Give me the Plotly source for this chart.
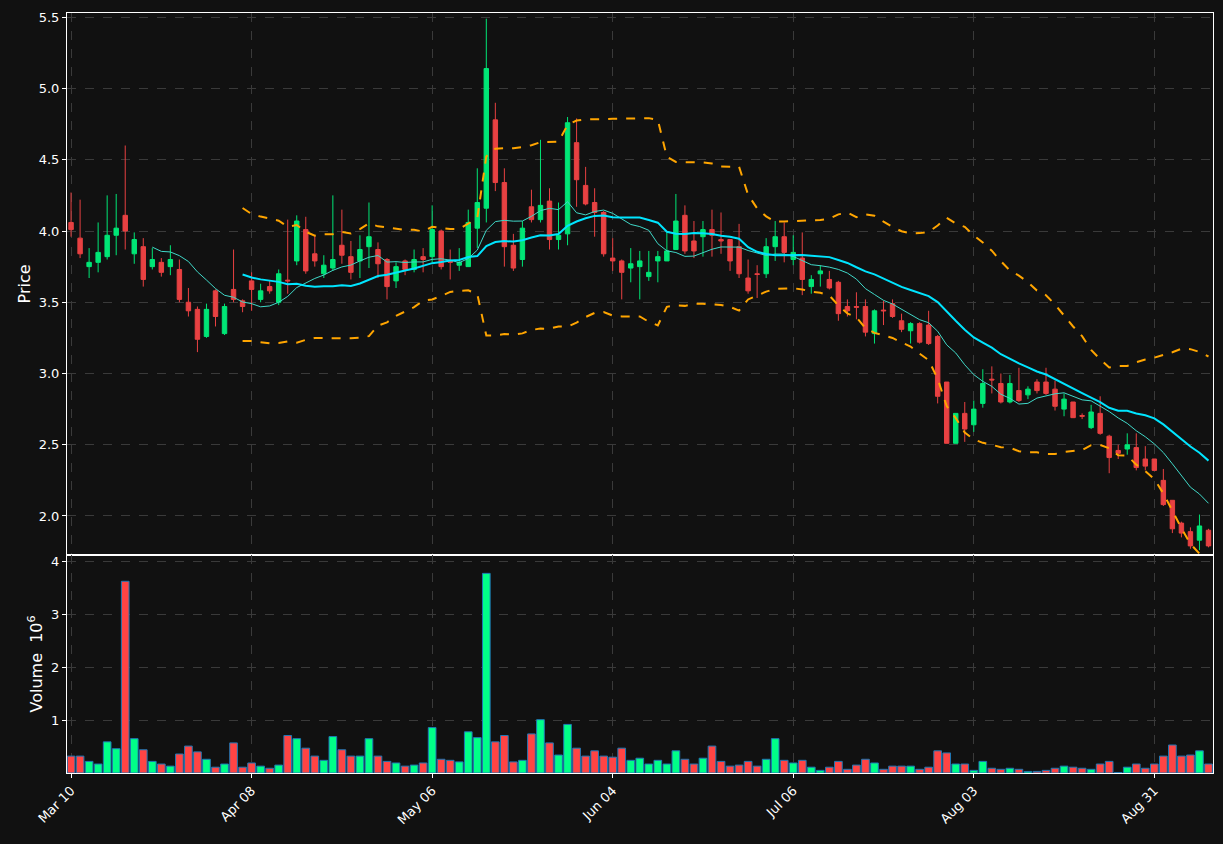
import pandas as pd
import plotly.graph_objects as go
from plotly.subplots import make_subplots

# OHLC, one entry per trading day
opens = [4.06, 3.95, 3.75, 3.78, 3.82, 3.97, 4.11, 3.84, 3.89, 3.75, 3.78, 3.75, 3.73, 3.50, 3.45, 3.26,
         3.58, 3.28, 3.59, 3.51, 3.65, 3.52, 3.61, 3.50, 3.655, 3.79, 4.01, 3.84, 3.70, 3.74, 3.90, 3.82,
         3.79, 3.89, 3.87, 3.80, 3.65, 3.79, 3.73, 3.82, 3.82, 4.00, 3.79, 3.76, 3.75, 4.02, 4.16, 4.78,
         4.34, 3.90, 3.80, 4.17, 4.08, 4.21, 3.94, 3.98, 4.62, 4.32, 4.20, 4.13, 3.81, 3.79, 3.74, 3.75,
         3.68, 3.79, 3.79, 3.87, 4.11, 3.93, 3.96, 4.01, 3.94, 3.94, 3.89, 3.67, 3.70, 3.70, 3.89, 3.96,
         3.80, 3.81, 3.61, 3.70, 3.66, 3.64, 3.47, 3.47, 3.47, 3.28, 3.445, 3.49, 3.37, 3.30, 3.35, 3.34,
         3.26, 2.94, 2.51, 2.72, 2.64, 2.79, 2.96, 2.93, 2.80, 2.88, 2.85, 2.94, 2.94, 2.89, 2.75, 2.80,
         2.705, 2.62, 2.72, 2.56, 2.46, 2.47, 2.48, 2.40, 2.40, 2.25, 2.11, 1.95, 1.89, 1.83, 1.90]
highs = [4.27, 4.22, 3.88, 4.06, 4.25, 4.26, 4.60, 3.99, 3.95, 3.88, 3.81, 3.90, 3.80, 3.60, 3.47, 3.49,
         3.59, 3.49, 3.87, 3.52, 3.71, 3.63, 3.65, 3.73, 4.08, 4.11, 4.10, 3.97, 3.83, 4.25, 4.15, 3.93,
         3.97, 4.20, 3.92, 3.81, 3.78, 3.80, 3.87, 3.88, 4.18, 4.01, 3.87, 3.88, 4.15, 4.44, 5.49, 4.90,
         4.44, 3.98, 4.07, 4.29, 4.64, 4.30, 4.20, 4.80, 4.79, 4.45, 4.30, 4.14, 3.95, 3.80, 3.88, 3.86,
         3.86, 3.86, 3.99, 4.26, 4.18, 4.07, 4.07, 4.15, 4.13, 3.94, 4.05, 3.80, 3.76, 3.95, 4.07, 4.06,
         3.97, 3.99, 3.69, 3.76, 3.72, 3.65, 3.52, 3.57, 3.52, 3.45, 3.51, 3.52, 3.42, 3.36, 3.36, 3.44,
         3.27, 2.94, 2.72, 2.80, 2.81, 3.03, 3.05, 3.00, 2.99, 3.04, 2.91, 2.96, 3.04, 2.95, 2.86, 2.80,
         2.72, 2.78, 2.84, 2.57, 2.50, 2.58, 2.58, 2.49, 2.40, 2.33, 2.11, 1.96, 1.92, 2.01, 1.91]
lows = [3.96, 3.81, 3.67, 3.71, 3.80, 3.83, 3.87, 3.77, 3.61, 3.73, 3.68, 3.69, 3.50, 3.40, 3.15, 3.25,
        3.33, 3.27, 3.50, 3.43, 3.44, 3.50, 3.56, 3.48, 3.56, 3.76, 3.70, 3.75, 3.67, 3.72, 3.77, 3.66,
        3.67, 3.74, 3.67, 3.52, 3.60, 3.69, 3.71, 3.71, 3.78, 3.73, 3.66, 3.72, 3.75, 3.88, 4.06, 4.28,
        3.75, 3.72, 3.75, 4.06, 4.06, 3.87, 3.87, 3.90, 4.17, 4.18, 3.96, 3.82, 3.72, 3.52, 3.64, 3.52,
        3.65, 3.64, 3.79, 3.87, 3.84, 3.81, 3.82, 3.82, 3.84, 3.72, 3.67, 3.56, 3.53, 3.67, 3.79, 3.78,
        3.76, 3.55, 3.56, 3.61, 3.59, 3.37, 3.40, 3.38, 3.26, 3.21, 3.34, 3.39, 3.29, 3.21, 3.21, 3.20,
        2.79, 2.51, 2.51, 2.52, 2.59, 2.76, 2.86, 2.79, 2.79, 2.80, 2.82, 2.86, 2.85, 2.74, 2.70, 2.69,
        2.68, 2.61, 2.57, 2.30, 2.40, 2.43, 2.32, 2.32, 2.32, 2.07, 1.88, 1.85, 1.77, 1.76, 1.78]
closes = [4.01, 3.84, 3.78, 3.85, 3.97, 4.02, 4.00, 3.94, 3.66, 3.80, 3.71, 3.80, 3.52, 3.44, 3.24, 3.45,
          3.40, 3.47, 3.52, 3.47, 3.59, 3.58, 3.58, 3.70, 3.65, 4.07, 3.72, 3.79, 3.76, 3.80, 3.83, 3.71,
          3.87, 3.96, 3.77, 3.61, 3.75, 3.73, 3.80, 3.80, 4.01, 3.75, 3.78, 3.78, 4.06, 4.20, 5.14, 4.34,
          3.89, 3.74, 4.02, 4.08, 4.18, 3.94, 3.97, 4.76, 4.36, 4.19, 4.13, 3.84, 3.79, 3.71, 3.77, 3.79,
          3.71, 3.82, 3.86, 4.07, 3.86, 3.86, 4.01, 3.97, 3.93, 3.79, 3.70, 3.58, 3.695, 3.89, 3.96, 3.85,
          3.85, 3.66, 3.66, 3.72, 3.60, 3.42, 3.44, 3.465, 3.29, 3.44, 3.44, 3.40, 3.31, 3.35, 3.22, 3.21,
          2.84, 2.51, 2.72, 2.61, 2.75, 2.93, 2.955, 2.80, 2.93, 2.81, 2.89, 2.88, 2.86, 2.77, 2.82, 2.69,
          2.70, 2.73, 2.58, 2.41, 2.44, 2.50, 2.34, 2.35, 2.32, 2.08, 1.91, 1.88, 1.79, 1.93, 1.79]
# volume in millions
volumes = [0.32, 0.32, 0.22, 0.17, 0.59, 0.46, 3.63, 0.65, 0.44, 0.22, 0.17, 0.13, 0.36, 0.51, 0.40, 0.26,
           0.11, 0.17, 0.57, 0.11, 0.19, 0.13, 0.09, 0.15, 0.71, 0.65, 0.47, 0.32, 0.24, 0.69, 0.44, 0.32,
           0.32, 0.65, 0.32, 0.22, 0.19, 0.13, 0.15, 0.19, 0.86, 0.26, 0.24, 0.21, 0.78, 0.67, 3.78, 0.59,
           0.71, 0.21, 0.24, 0.74, 1.01, 0.57, 0.34, 0.92, 0.47, 0.32, 0.42, 0.32, 0.30, 0.47, 0.24, 0.28,
           0.17, 0.24, 0.17, 0.42, 0.26, 0.17, 0.28, 0.51, 0.22, 0.13, 0.15, 0.22, 0.13, 0.26, 0.65, 0.24,
           0.19, 0.24, 0.11, 0.05, 0.11, 0.22, 0.07, 0.15, 0.26, 0.19, 0.07, 0.13, 0.13, 0.13, 0.07, 0.11,
           0.42, 0.38, 0.17, 0.17, 0.05, 0.22, 0.09, 0.07, 0.09, 0.07, 0.03, 0.03, 0.05, 0.09, 0.13, 0.11,
           0.09, 0.07, 0.17, 0.22, 0.01, 0.11, 0.17, 0.09, 0.17, 0.32, 0.53, 0.32, 0.34, 0.42, 0.17]
tick_labels = ["Mar 10", "Apr 08", "May 06", "Jun 04", "Jul 06", "Aug 03", "Aug 31"]

df = pd.DataFrame({'Open': opens, 'High': highs, 'Low': lows, 'Close': closes, 'Volume': volumes})
x = list(range(len(df)))

# indicators like mplfinance would draw them
df['ma10'] = df['Close'].rolling(10).mean()
df['ma20'] = df['Close'].rolling(20).mean()
std20 = df['Close'].rolling(20).std(ddof=0)
df['bb_up'] = df['ma20'] + 2 * std20
df['bb_lo'] = df['ma20'] - 2 * std20

UP = '#00e676'
DOWN = '#e84142'
vol_colors = ['#00ff88' if c >= o else '#ff4444' for o, c in zip(opens, closes)]

fig = make_subplots(rows=2, cols=1, shared_xaxes=True, vertical_spacing=0,
                    row_heights=[0.713, 0.287])

fig.add_trace(go.Candlestick(x=x, open=df['Open'], high=df['High'], low=df['Low'], close=df['Close'],
                             increasing=dict(line=dict(color=UP, width=1), fillcolor=UP),
                             decreasing=dict(line=dict(color=DOWN, width=1), fillcolor=DOWN),
                             whiskerwidth=0, showlegend=False), row=1, col=1)
fig.add_trace(go.Scatter(x=x, y=df['ma10'], mode='lines', line=dict(color='#40d8c8', width=1),
                         showlegend=False, hoverinfo='skip'), row=1, col=1)
fig.add_trace(go.Scatter(x=x, y=df['ma20'], mode='lines', line=dict(color='#00e5ff', width=2),
                         showlegend=False, hoverinfo='skip'), row=1, col=1)
for col in ['bb_up', 'bb_lo']:
    fig.add_trace(go.Scatter(x=x, y=df[col], mode='lines', line=dict(color='#ffa500', width=2, dash='dash'),
                             showlegend=False, hoverinfo='skip'), row=1, col=1)

fig.add_trace(go.Bar(x=x, y=df['Volume'], marker=dict(color=vol_colors, line=dict(color='#1f77b4', width=1)),
                     width=0.85, showlegend=False), row=2, col=1)

axis_style = dict(showgrid=True, gridcolor='#3a3a3a', griddash='dash', gridwidth=1,
                  showline=True, linecolor='white', linewidth=1, mirror=True,
                  ticks='outside', ticklen=4, tickcolor='white', tickfont=dict(color='white', size=13),
                  zeroline=False)

fig.update_layout(
    width=1223, height=844,
    paper_bgcolor='#111111', plot_bgcolor='#111111',
    font=dict(family='DejaVu Sans', color='white', size=13),
    margin=dict(l=67, r=10, t=13, b=71),
    bargap=0.1,
    xaxis_rangeslider_visible=False,
)
fig.update_xaxes(**axis_style)
fig.update_yaxes(**axis_style)
fig.update_xaxes(range=[-0.45, 126.5], tickvals=list(range(0, 121, 20)), ticktext=tick_labels,
                 tickangle=-45, row=2, col=1)
fig.update_xaxes(range=[-0.45, 126.5], showticklabels=False, row=1, col=1)
fig.update_yaxes(range=[1.727, 5.53], tickvals=[2.0, 2.5, 3.0, 3.5, 4.0, 4.5, 5.0, 5.5],
                 tickformat='.1f', title_text='Price', title_standoff=4, row=1, col=1)
fig.update_yaxes(range=[0, 4.13], tickvals=[1, 2, 3, 4], title_text='Volume  10<sup>6</sup>',
                 title_standoff=4, row=2, col=1)

fig.write_html("out.html", config={'displayModeBar': False},
               post_script="document.body.style.margin='0';document.body.style.background='#111111';")
